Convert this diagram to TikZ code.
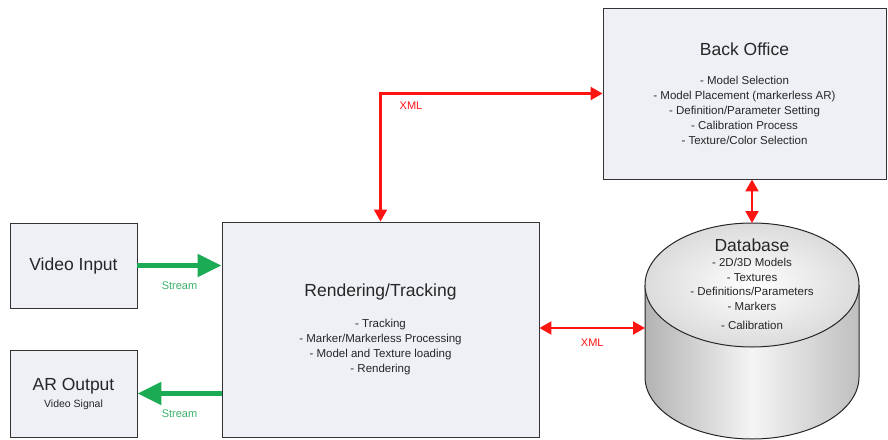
\documentclass[tikz,border=0pt]{standalone}
\usepackage{fontspec}
\setmainfont{Liberation Sans}
\usetikzlibrary{arrows.meta}
\definecolor{boxfill}{HTML}{EEF0F5}
\definecolor{streamgreen}{HTML}{1CAB55}
\definecolor{streamtext}{HTML}{3BB06A}
\definecolor{xmlred}{HTML}{FF1414}
\newcommand{\blocktitle}{\fontsize{17.5}{21}\selectfont}
\newcommand{\blockitems}{\fontsize{11.5}{15}\selectfont}

\begin{document}
\begin{tikzpicture}[x=1pt,y=-1pt]
				\tikzset{block/.style={
						draw=black!80,
						fill=boxfill,
						line width=0.9pt,
						align=center,
						text=black!85,
						font=\blockitems},
					stream link/.style={draw=streamgreen, line width=5pt, -{Triangle[length=24pt,width=22pt]}},
					xml link/.style={draw=xmlred, line width=2.2pt, {Triangle[length=12pt,width=13pt]}-{Triangle[length=12pt,width=13pt]}},
					stream label/.style={text=streamtext, font=\fontsize{11}{13}\selectfont},
					xml label/.style={text=xmlred, font=\fontsize{11}{13}\selectfont}}
				
				\useasboundingbox (0,0) rectangle (888,439);
				
				%% BLOCKS
				\node[block, minimum width=127, minimum height=85] (VideoIn) at (73.5,265.5) {\blocktitle Video Input};
				\node[block, minimum width=127, minimum height=87] (AROut) at (73.5,393.5) {{\blocktitle AR Output}\\[2pt] {\fontsize{10.5}{12}\selectfont Video Signal}};
				\node[block, minimum width=317, minimum height=215] (Render) at (380.5,329.5) {{\blocktitle Rendering/Tracking}\\[16pt] - Tracking\\ - Marker/Markerless Processing\\ - Model and Texture loading\\ - Rendering};
				\node[block, minimum width=283, minimum height=171] (Back) at (744.5,93.5) {{\blocktitle Back Office}\\[14pt] - Model Selection\\ - Model Placement (markerless AR)\\ - Definition/Parameter Setting\\ - Calibration Process\\ - Texture/Color Selection};
				
				%% DATABASE
				\shade[left color=gray!60, right color=gray!50, middle color=gray!8] (645,285) -- (645,377) arc (180:0:107 and 62) -- (859,285) -- cycle;
				\draw[line width=1pt, black!85] (645,285) -- (645,377) arc (180:0:107 and 62) -- (859,285);
				\shade[inner color=white, outer color=gray!28] (752,285) ellipse (107 and 62);
				\draw[line width=1pt, black!85] (752,285) ellipse (107 and 62);
				\node[align=center, text=black!85, font=\fontsize{11.5}{14.5}\selectfont] (DBText) at (752,284) {{\blocktitle Database}\\[1pt] - 2D/3D Models\\ - Textures\\ - Definitions/Parameters\\ - Markers\\[5pt] - Calibration};
				\coordinate (DBTop) at (752,223);
				\coordinate (DBLeft) at (645,328);
				
				%% LINKS
				\draw[stream link] (VideoIn.east) -- (VideoIn.east -| Render.west) node[midway, below=10pt, stream label] (StreamIn) {Stream};
				\draw[stream link] (Render.west |- AROut.east) -- (AROut.east) node[midway, below=10pt, stream label] (StreamOut) {Stream};
				\draw[xml link] (Render.north) |- (Back.west);
				\node[xml label] (XMLBack) at (411,106) {XML};
				\draw[xml link] (Back.south -| DBTop) -- (DBTop);
				\draw[xml link] (Render.east |- DBLeft) -- (DBLeft) node[midway, below=6pt, xml label] (XMLDB) {XML};
				
\end{tikzpicture}
\end{document}
